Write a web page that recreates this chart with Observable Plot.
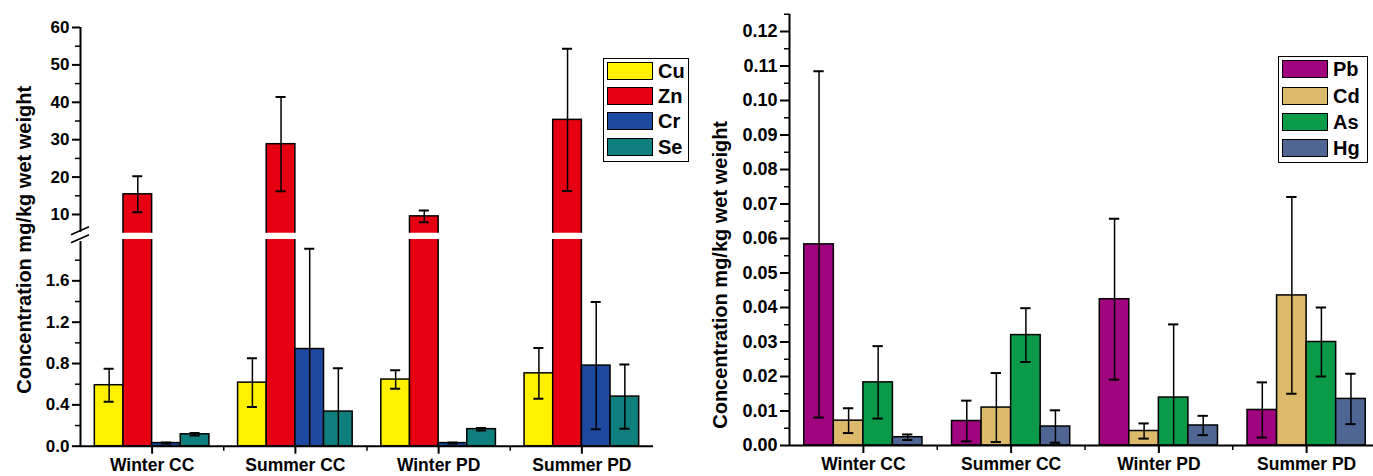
<!DOCTYPE html>
<html><head><meta charset="utf-8">
<script src="https://cdn.jsdelivr.net/npm/d3@7"></script>
<script src="https://cdn.jsdelivr.net/npm/@observablehq/plot@0.6"></script>
<style>
body{margin:0;background:#fff;overflow:hidden;font-family:"Liberation Sans",Arial,sans-serif;}
#root{position:relative;width:1373px;height:476px;overflow:hidden;background:#fff}
#root svg{position:absolute;left:0;top:0;max-width:none;background:none}
.legend{position:absolute;border:1.5px solid #000;background:#fff;box-sizing:border-box}
.legend .row{position:absolute;left:0;display:flex;align-items:center}
.legend .sw{width:46px;height:18px;border:1.5px solid #000;box-sizing:border-box}
.legend .lb{font:bold 20px "Liberation Sans",Arial,sans-serif;margin-left:5px;line-height:18px}
</style></head><body><div id="root"></div><script>
// ---- data ----
const sites = ["Winter CC", "Summer CC", "Winter PD", "Summer PD"];

const essentialElements = ["Cu", "Zn", "Cr", "Se"];
const essentialColors = ["#FFF100", "#E60012", "#1D4AA0", "#0E7F7C"];
const cuMean = [0.59, 0.615, 0.645, 0.705];
const cuSd   = [0.16, 0.235, 0.09, 0.245];
const znMean = [15.4, 28.8, 9.5, 35.3];
const znSd   = [4.8, 12.6, 1.6, 19.0];
const crMean = [0.03, 0.94, 0.03, 0.78];
const crSd   = [0.005, 0.97, 0.005, 0.615];
const seMean = [0.115, 0.335, 0.165, 0.48];
const seSd   = [0.012, 0.42, 0.012, 0.31];

const toxicElements = ["Pb", "Cd", "As", "Hg"];
const toxicColors = ["#A0057F", "#DDB96B", "#0A9A48", "#4F6695"];
const pbMean = [0.0583, 0.0071, 0.0424, 0.0103];
const pbSd   = [0.0502, 0.0059, 0.0233, 0.0080];
const cdMean = [0.0072, 0.0110, 0.0042, 0.0435];
const cdSd   = [0.0036, 0.0100, 0.0022, 0.0285];
const asMean = [0.0183, 0.0320, 0.0139, 0.0300];
const asSd   = [0.0105, 0.0078, 0.0212, 0.0100];
const hgMean = [0.0024, 0.0055, 0.0058, 0.0135];
const hgSd   = [0.0008, 0.0047, 0.0028, 0.0073];

const leftUpperTicks = [10, 20, 30, 40, 50, 60];
const leftUpperMinor = [15, 25, 35, 45, 55];
const leftLowerTicks = [0, 0.4, 0.8, 1.2, 1.6];
const leftLowerMinor = [0.2, 0.6, 1.0, 1.4, 1.8];
const rightTicks = [0, 0.01, 0.02, 0.03, 0.04, 0.05, 0.06, 0.07, 0.08, 0.09, 0.10, 0.11, 0.12];
const rightMinor = [0.005, 0.015, 0.025, 0.035, 0.045, 0.055, 0.065, 0.075, 0.085, 0.095, 0.105, 0.115, 0.125];
const yLabel = "Concentration mg/kg wet weight";

// ---- tables ----
function rows(elements, means, sds) {
  const out = [];
  elements.forEach((el, si) => sites.forEach((s, ci) => {
    const m = means[si][ci], sd = sds[si][ci];
    const c = ci - 0.4 + si * 0.2 + 0.1;
    out.push({site: s, el, ci, si, m, lo: m - sd, hi: m + sd, x1: c - 0.1, x2: c + 0.1, c});
  }));
  return out;
}
const essential = rows(essentialElements, [cuMean, znMean, crMean, seMean], [cuSd, znSd, crSd, seSd]);
const toxic = rows(toxicElements, [pbMean, cdMean, asMean, hgMean], [pbSd, cdSd, asSd, hgSd]);

const FONT = '"Liberation Sans", Arial, sans-serif';
const CAP = 0.035;
const root = document.getElementById("root");

function barMarks(data) {
  return [
    Plot.rectY(data, {x1: "x1", x2: "x2", y1: 0, y2: "m", fill: "el", stroke: "#000", strokeWidth: 1.5, clip: true}),
    Plot.ruleX(data, {x: "c", y1: "lo", y2: "hi", stroke: "#000", strokeWidth: 1.5, clip: true}),
    Plot.ruleY(data, {y: "hi", x1: d => d.c - CAP, x2: d => d.c + CAP, stroke: "#000", strokeWidth: 2, clip: true}),
    Plot.ruleY(data, {y: "lo", x1: d => d.c - CAP, x2: d => d.c + CAP, stroke: "#000", strokeWidth: 2, clip: true})
  ];
}
const tickFont = {fontSize: 17, fontWeight: "bold", fontFamily: FONT};
const catFont = {fontSize: 17.5, fontWeight: "bold", fontFamily: FONT};
const labelText = {frameAnchor: "left", rotate: -90, textAnchor: "middle", lineAnchor: "middle", fontSize: 20, fontWeight: "bold", fontFamily: FONT, fill: "#000"};

// left lower segment
const lower = Plot.plot({
  width: 700, height: 476, marginLeft: 80, marginRight: 47, marginTop: 239, marginBottom: 30.3,
  style: {fontFamily: FONT, background: "none", overflow: "visible"},
  x: {domain: [-0.5, 3.5]},
  y: {domain: [0, 2]},
  color: {domain: essentialElements, range: essentialColors},
  marks: [
    ...barMarks(essential),
    Plot.ruleY([0], {stroke: "#000", strokeWidth: 2}),
    Plot.ruleX([-0.5], {y1: 0, y2: 1.98, stroke: "#000", strokeWidth: 2}),
    Plot.axisY({ticks: leftLowerTicks, tickFormat: d3.format(".1f"), tickSize: 8, tickPadding: 3, strokeWidth: 2, label: null, ...tickFont}),
    Plot.axisY({ticks: leftLowerMinor, tickFormat: () => "", tickSize: 5, strokeWidth: 1.5, label: null}),
    Plot.axisX({ticks: [0, 1, 2, 3], tickFormat: i => sites[i], tickSize: 8, tickPadding: 4, strokeWidth: 2, label: null, ...catFont}),
    Plot.axisX({ticks: [0.5, 1.5, 2.5], tickFormat: () => "", tickSize: 5, strokeWidth: 1.5, label: null}),
    Plot.text([yLabel], {...labelText, dx: -56, dy: -103})
  ]
});
root.appendChild(lower);

// left upper segment
const upper = Plot.plot({
  width: 700, height: 476, marginLeft: 80, marginRight: 47, marginTop: 27, marginBottom: 243.3,
  style: {fontFamily: FONT, background: "none", overflow: "visible"},
  x: {domain: [-0.5, 3.5], axis: null},
  y: {domain: [5, 60]},
  color: {domain: essentialElements, range: essentialColors},
  marks: [
    ...barMarks(essential),
    Plot.ruleX([-0.5], {y1: 5.25, y2: 60, stroke: "#000", strokeWidth: 2}),
    Plot.axisY({ticks: leftUpperTicks, tickFormat: d3.format("d"), tickSize: 8, tickPadding: 3, strokeWidth: 2, label: null, ...tickFont}),
    Plot.axisY({ticks: leftUpperMinor, tickFormat: () => "", tickSize: 5, strokeWidth: 1.5, label: null})
  ]
});
root.appendChild(upper);
// axis break marks
{
  const xs = upper.scale("x"), ys = upper.scale("y");
  const x0 = xs.apply(-0.5), yb = ys.apply(5);
  const g = d3.select(upper).append("g").attr("stroke", "#000").attr("stroke-width", 1.5);
  [-2, 6].forEach(off => g.append("line")
    .attr("x1", x0 - 9).attr("y1", yb + off + 4).attr("x2", x0 + 9).attr("y2", yb + off - 4));
}

// right panel
const right = Plot.plot({
  width: 1380, height: 476, marginLeft: 789, marginRight: 0, marginTop: 13.75, marginBottom: 31,
  style: {fontFamily: FONT, background: "none", overflow: "visible"},
  x: {domain: [-0.5, 3.5]},
  y: {domain: [0, 0.125]},
  color: {domain: toxicElements, range: toxicColors},
  marks: [
    ...barMarks(toxic),
    Plot.ruleY([0], {stroke: "#000", strokeWidth: 2}),
    Plot.ruleX([-0.5], {y1: 0, y2: 0.125, stroke: "#000", strokeWidth: 2}),
    Plot.axisY({ticks: rightTicks, tickFormat: d3.format(".2f"), tickSize: 9, tickPadding: 3, strokeWidth: 2, label: null, fontSize: 18, fontWeight: "bold", fontFamily: FONT}),
    Plot.axisY({ticks: rightMinor, tickFormat: () => "", tickSize: 5, strokeWidth: 1.5, label: null}),
    Plot.axisX({ticks: [0, 1, 2, 3], tickFormat: i => sites[i], tickSize: 8, tickPadding: 4, strokeWidth: 2, label: null, ...catFont}),
    Plot.axisX({ticks: [0.5, 1.5, 2.5], tickFormat: () => "", tickSize: 5, strokeWidth: 1.5, label: null}),
    Plot.text([yLabel], {...labelText, dx: -69, dy: 45})
  ]
});
root.appendChild(right);

// legends
function legend(elements, colors, box, swTops, swLeft) {
  const div = document.createElement("div");
  div.className = "legend";
  Object.assign(div.style, {left: box[0] + "px", top: box[1] + "px", width: box[2] + "px", height: box[3] + "px"});
  elements.forEach((el, i) => {
    const r = document.createElement("div");
    r.className = "row";
    r.style.top = swTops[i] + "px";
    r.style.left = swLeft + "px";
    const sw = document.createElement("div");
    sw.className = "sw"; sw.style.background = colors[i];
    const lb = document.createElement("span");
    lb.className = "lb"; lb.textContent = el;
    r.appendChild(sw); r.appendChild(lb);
    div.appendChild(r);
  });
  root.appendChild(div);
}
legend(essentialElements, essentialColors, [603, 58, 86, 104], [3, 28, 53, 79], 3);
legend(toxicElements, toxicColors, [1278, 56, 90, 107], [3, 30, 56, 82], 3);
</script></body></html>
